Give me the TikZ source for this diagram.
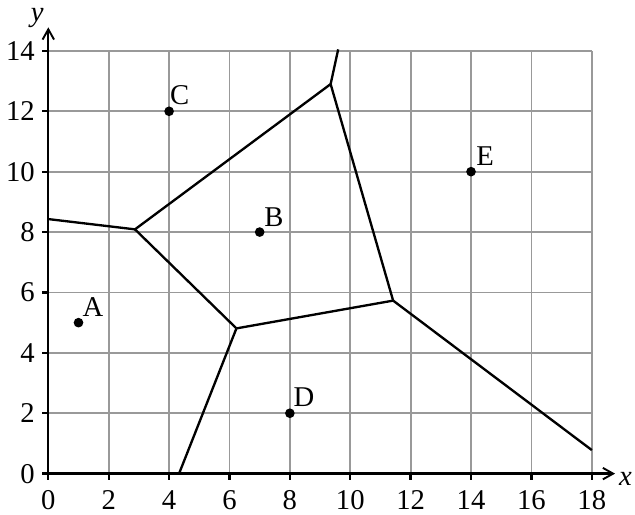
\documentclass[tikz,border=0pt]{standalone}
\usepackage{fontspec}
\setmainfont{Liberation Serif}
\usetikzlibrary{arrows.meta}
\begin{document}
\begin{tikzpicture}[
  gridline/.style={draw=black!40, line width=1.7pt},
  axisline/.style={draw=black, line width=2.2pt},
  edgeline/.style={draw=black, line width=2.2pt, line join=round},
  dot/.style={circle, fill=black, inner sep=0pt, minimum size=0.32cm},
  ptlabel/.style={anchor=base west, inner sep=0pt, font=\fontsize{27pt}{30pt}\selectfont},
  ticklabel/.style={inner sep=0pt, font=\fontsize{27pt}{30pt}\selectfont},
  axislabel/.style={inner sep=0pt, font=\fontsize{27pt}{30pt}\selectfont\itshape},
]
\useasboundingbox (-1.6,-1.367) rectangle (19.43,15.686);
% grid
\foreach \x in {2,4,...,18} \draw[gridline] (\x,0) -- (\x,14);
\foreach \y in {2,4,...,14} \draw[gridline] (0,\y) -- (18,\y);
% ticks
\foreach \x in {0,2,...,18} \draw[axisline] (\x,0) -- (\x,-0.2);
\foreach \y in {0,2,...,14} \draw[axisline] (0,\y) -- (-0.22,\y);
% axes
\coordinate (O) at (0,0);
\coordinate (xend) at (18.77,0);
\coordinate (yend) at (0,14.78);
\draw[axisline, -{Straight Barb[length=0.34cm,width=0.38cm,line width=1.8pt]}] (O) -- (xend);
\draw[axisline, -{Straight Barb[length=0.34cm,width=0.38cm,line width=1.8pt]}] (O) -- (yend);
\node[axislabel, anchor=base west] (xl) at (18.9,-0.4) {x};
\node[axislabel, anchor=base] (yl) at (-0.37,14.96) {y};
% tick labels
\foreach \x in {0,2,...,18} \node[ticklabel, anchor=base] (tx\x) at (\x,-1.2) {\x};
\foreach \y in {0,2,...,14} \node[ticklabel, anchor=base east] (ty\y) at (-0.44,\y-0.315) {\y};
% Voronoi vertices
\coordinate (L) at (0,8.43);
\coordinate (V1) at (2.87,8.09);
\coordinate (V2) at (9.35,12.9);
\coordinate (T) at (9.6,14.05);
\coordinate (V3) at (6.23,4.81);
\coordinate (Bt) at (4.33,0);
\coordinate (V4) at (11.42,5.73);
\coordinate (R) at (18,0.78);
\draw[edgeline] (L) -- (V1);
\draw[edgeline] (V1) -- (V2);
\draw[edgeline] (V2) -- (T);
\draw[edgeline] (V1) -- (V3);
\draw[edgeline] (V3) -- (Bt);
\draw[edgeline] (V3) -- (V4);
\draw[edgeline] (V4) -- (V2);
\draw[edgeline] (V4) -- (R);
% points
\node[dot] (A) at (1,5) {};
\node[dot] (B) at (7,8) {};
\node[dot] (C) at (4,12) {};
\node[dot] (D) at (8,2) {};
\node[dot] (E) at (14,10) {};
\node[ptlabel] (Al) at (1.13,5.22) {A};
\node[ptlabel] (Bl) at (7.15,8.19) {B};
\node[ptlabel] (Cl) at (4.03,12.22) {C};
\node[ptlabel] (Dl) at (8.12,2.22) {D};
\node[ptlabel] (El) at (14.17,10.22) {E};
\end{tikzpicture}
\end{document}
